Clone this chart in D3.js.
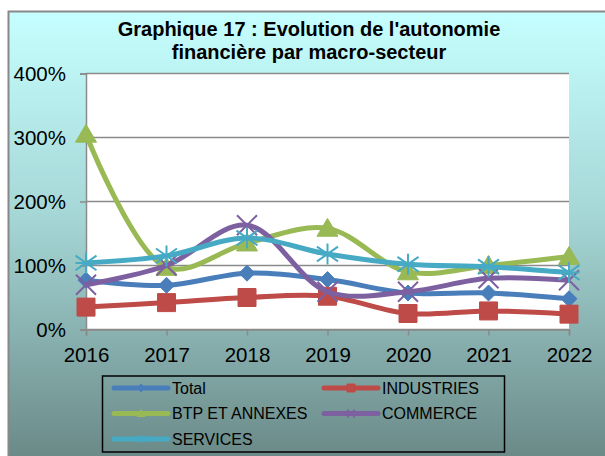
<!DOCTYPE html>
<html>
<head>
<meta charset="utf-8">
<script src="https://cdn.jsdelivr.net/npm/d3@7"></script>
<style>
  body { margin: 0; background: #fff; }
  text { font-family: "Liberation Sans", Arial, sans-serif; }
</style>
</head>
<body>
<div id="chart"></div>
<script>
// Data
const years = ["2016", "2017", "2018", "2019", "2020", "2021", "2022"];
const total = [77, 69, 88, 78, 57, 57, 48];
const industries = [35, 42, 50, 52, 25, 29, 24];
const btp = [305, 97, 135, 158, 90, 100, 114];
const commerce = [70, 100, 163, 59, 59, 80, 77];
const services = [104, 115, 143, 118, 102, 98, 89];
const yTicks = [0, 100, 200, 300, 400];
const titleLines = ["Graphique 17 : Evolution de l'autonomie", "financière par macro-secteur"];

const series = [
    { name: "Total", values: total, color: "#4a7ebb", marker: "diamond" },
    { name: "INDUSTRIES", values: industries, color: "#be4b48", marker: "square" },
    { name: "BTP ET ANNEXES", values: btp, color: "#98b954", marker: "triangle" },
    { name: "COMMERCE", values: commerce, color: "#7d60a0", marker: "x" },
    { name: "SERVICES", values: services, color: "#46aac5", marker: "star" }
];

const width = 605, height = 456;
const svg = d3.select("#chart").append("svg")
    .attr("width", width)
    .attr("height", height);

// background gradient
const defs = svg.append("defs");
const grad = defs.append("linearGradient")
    .attr("id", "bg")
    .attr("x1", 0).attr("y1", 0).attr("x2", 0).attr("y2", 1);
grad.append("stop").attr("offset", "0%").attr("stop-color", "#c6ffff");
grad.append("stop").attr("offset", "45%").attr("stop-color", "#a4d6d5");
grad.append("stop").attr("offset", "100%").attr("stop-color", "#678583");

svg.append("rect")
    .attr("x", 8.5).attr("y", 11.5)
    .attr("width", 620).attr("height", 460)
    .attr("fill", "url(#bg)")
    .attr("stroke", "#888")
    .attr("stroke-width", 2);

// title
svg.selectAll(".title")
    .data(titleLines)
    .enter()
    .append("text")
    .attr("class", "title")
    .attr("x", 309)
    .attr("y", (d, i) => 36 + i * 23)
    .attr("text-anchor", "middle")
    .style("font-size", "20px").style("font-weight", "bold")
    .text(d => d);

const plot = { left: 86, right: 569, top: 73.5, bottom: 329.5 };

const x = d3.scalePoint()
    .domain(years)
    .range([plot.left, plot.right]);

const y = d3.scaleLinear()
    .domain([0, 400])
    .range([plot.bottom, plot.top]);

// plot area
svg.append("rect")
    .attr("x", plot.left).attr("y", plot.top)
    .attr("width", plot.right - plot.left)
    .attr("height", plot.bottom - plot.top)
    .attr("fill", "#fff");

// gridlines
svg.append("g")
    .selectAll("line")
    .data(yTicks)
    .enter()
    .append("line")
    .attr("x1", plot.left).attr("x2", plot.right)
    .attr("y1", d => y(d)).attr("y2", d => y(d))
    .attr("stroke", "#8a8a8a")
    .attr("stroke-width", 1.5);

// axes
const yAxis = svg.append("g")
    .attr("transform", `translate(${plot.left},0)`)
    .call(d3.axisLeft(y).tickValues(yTicks).tickFormat(d => d + "%").tickSize(6).tickPadding(14));
const xAxis = svg.append("g")
    .attr("transform", `translate(0,${plot.bottom})`)
    .call(d3.axisBottom(x).tickSize(6).tickPadding(12));

[yAxis, xAxis].forEach(g => {
    g.select(".domain").attr("stroke", "#8a8a8a").attr("stroke-width", 1.5);
    g.selectAll(".tick line").attr("stroke", "#8a8a8a").attr("stroke-width", 1.5);
    g.selectAll("text")
        .attr("fill", "#000")
        .style("font-family", "'Liberation Sans', Arial, sans-serif")
        .style("font-size", "20.5px");
});
yAxis.selectAll("text").attr("dy", "0.35em");

// markers
function markerPath(type, s) {
    const h = s / 2;
    if (type === "diamond") return `M0,${-h}L${h},0L0,${h}L${-h},0Z`;
    if (type === "square") return `M${-h},${-h}H${h}V${h}H${-h}Z`;
    if (type === "triangle") return `M0,${-h * 0.95}L${h},${h * 0.75}L${-h},${h * 0.75}Z`;
    if (type === "x") return `M${-h},${-h}L${h},${h}M${-h},${h}L${h},${-h}`;
    // asterisk
    return `M${-h},${-h * 0.7}L${h},${h * 0.7}M${-h},${h * 0.7}L${h},${-h * 0.7}M0,${-h}V${h}M${-h},0H${h}`;
}
const markerSize = { diamond: 16, square: 18, triangle: 21, x: 20, star: 21 };

const line = d3.line()
    .x((d, i) => x(years[i]))
    .y(d => y(d))
    .curve(d3.curveCatmullRom.alpha(0.5));

series.forEach(s => {
    const g = svg.append("g");
    g.append("path")
        .datum(s.values)
        .attr("d", line)
        .attr("fill", "none")
        .attr("stroke", s.color)
        .attr("stroke-width", 5)
        .attr("stroke-linejoin", "round");
    const stroked = s.marker === "x" || s.marker === "star";
    g.selectAll(".mk")
        .data(s.values)
        .enter()
        .append("path")
        .attr("class", "mk")
        .attr("transform", (d, i) => `translate(${x(years[i])},${y(d)})`)
        .attr("d", markerPath(s.marker, markerSize[s.marker]))
        .attr("fill", stroked ? "none" : s.color)
        .attr("stroke", s.color)
        .attr("stroke-width", stroked ? 2 : 1);
});

// legend
const legend = svg.append("g");
legend.append("rect")
    .attr("x", 102.5).attr("y", 376)
    .attr("width", 402).attr("height", 76)
    .attr("fill", "none")
    .attr("stroke", "#000")
    .attr("stroke-width", 1.5);

const legendPos = [[0, 0], [1, 0], [0, 1], [1, 1], [0, 2]];
series.forEach((s, i) => {
    const [col, row] = legendPos[i];
    const lx = 114 + col * 210;
    const ly = 388 + row * 25.5;
    legend.append("line")
        .attr("x1", lx).attr("x2", lx + 54)
        .attr("y1", ly).attr("y2", ly)
        .attr("stroke", s.color)
        .attr("stroke-width", 5)
        .attr("stroke-linecap", "round");
    const stroked = s.marker === "x" || s.marker === "star";
    legend.append("path")
        .attr("transform", `translate(${lx + 27},${ly})`)
        .attr("d", markerPath(s.marker, 8))
        .attr("fill", stroked ? "none" : s.color)
        .attr("stroke", s.color)
        .attr("stroke-width", stroked ? 1.5 : 1);
    legend.append("text")
        .attr("x", lx + 58).attr("y", ly)
        .attr("dy", "0.35em")
        .style("font-size", "16px")
        .text(s.name);
});
</script>
</body>
</html>
